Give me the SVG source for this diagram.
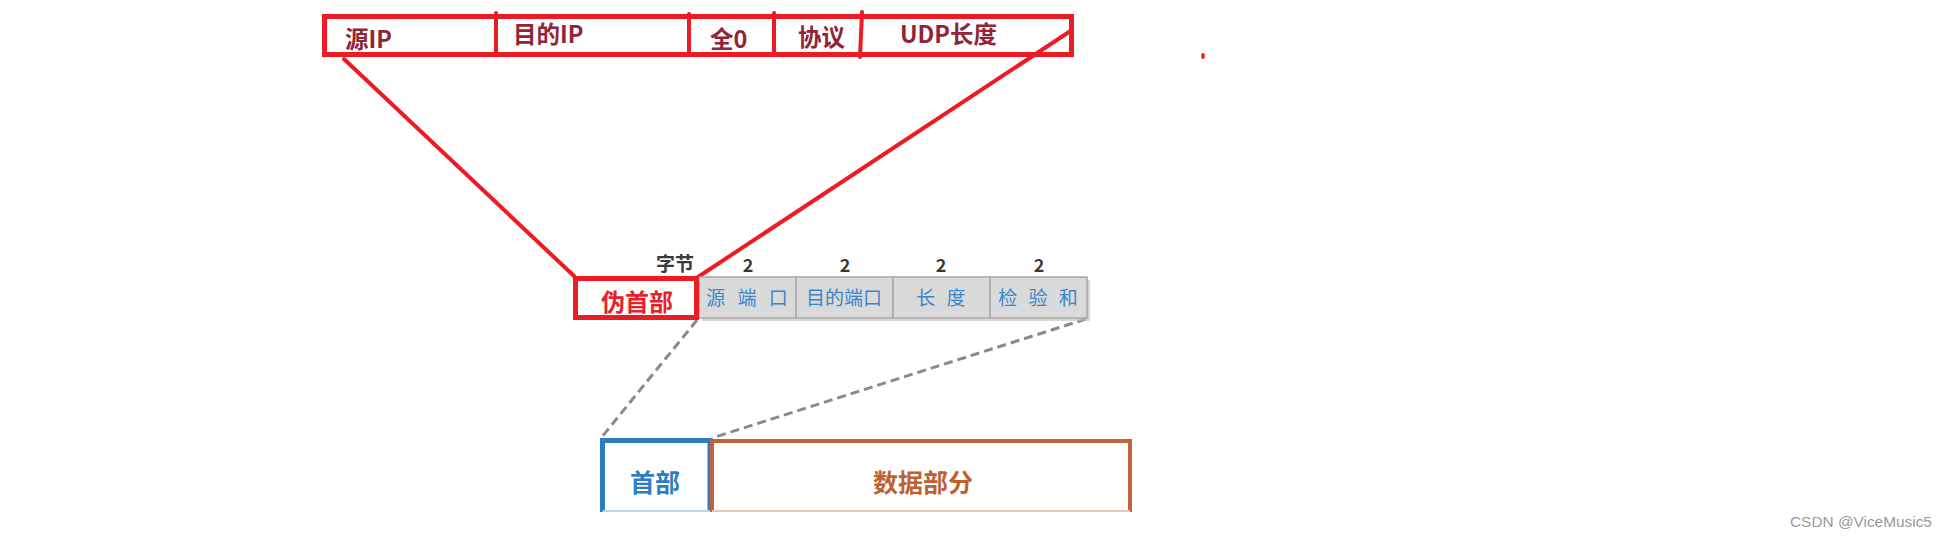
<svg xmlns="http://www.w3.org/2000/svg" width="1947" height="537" viewBox="0 0 1947 537">
<style>
.cjk{font-family:"Noto Sans CJK SC","Noto Sans",sans-serif}
.top{font-size:23.5px;font-weight:bold;fill:#922437}
.redbox{fill:none;stroke:#ed1c24;stroke-width:5}
.redline{stroke:#ed1c24;stroke-width:4;stroke-linecap:round}
.cell{fill:#dadada;stroke:#a8a8a8;stroke-width:1.5}
.celltxt{font-size:19px;fill:#3a86cc;text-anchor:middle}
.num{font-size:18px;font-weight:bold;fill:#3a3a3a;text-anchor:middle}
.dash{stroke:#8a8a8a;stroke-width:3;stroke-dasharray:9 5;fill:none}
</style>
<rect width="1947" height="537" fill="#ffffff"/>
<g id="pseudo-header-fields">
<rect class="redbox" x="324.5" y="16.5" width="747" height="38"/>
<line class="redline" x1="496" y1="13" x2="496" y2="55"/>
<line class="redline" x1="689" y1="14" x2="689" y2="55"/>
<line class="redline" x1="774" y1="13" x2="774" y2="55"/>
<line class="redline" x1="862" y1="12" x2="860" y2="57"/>
<text class="cjk top" x="345" y="48">源IP</text>
<text class="cjk top" x="513" y="43">目的IP</text>
<text class="cjk top" x="710" y="48">全0</text>
<text class="cjk top" x="798" y="46">协议</text>
<text class="cjk top" x="900" y="43">UDP长度</text>
</g>
<g id="red-dot"><ellipse cx="1203" cy="56" rx="1.8" ry="3" fill="#ed1c24"/></g>
<g id="connectors">
<line class="redline" x1="344" y1="59" x2="574" y2="276"/>
<line class="redline" x1="1072" y1="30" x2="698" y2="277"/>
<line class="dash" x1="697" y1="320" x2="601" y2="438"/>
<line class="dash" x1="1086" y1="319" x2="712" y2="438"/>
</g>
<g id="udp-header">
<rect x="702" y="280" width="388" height="41" fill="#bdbdbd" opacity="0.6"/>
<rect class="cell" x="699" y="277" width="97" height="41"/>
<rect class="cell" x="796" y="277" width="97" height="41"/>
<rect class="cell" x="893" y="277" width="97" height="41"/>
<rect class="cell" x="990" y="277" width="97" height="41"/>
<text class="cjk" x="656" y="271" font-size="19" font-weight="bold" fill="#3a3a3a">字节</text>
<text class="cjk num" x="748" y="272">2</text>
<text class="cjk num" x="845" y="272">2</text>
<text class="cjk num" x="941" y="272">2</text>
<text class="cjk num" x="1039" y="272">2</text>
<text class="cjk celltxt" x="747" y="305" word-spacing="8">源 端 口</text>
<text class="cjk celltxt" x="844" y="305">目的端口</text>
<text class="cjk celltxt" x="941" y="305" word-spacing="7">长 度</text>
<text class="cjk celltxt" x="1038" y="305" word-spacing="7">检 验 和</text>
</g>
<g id="pseudo-header">
<rect x="575.5" y="278.5" width="121" height="39" fill="#ffffff" stroke="#ed1c24" stroke-width="5"/>
<text class="cjk" x="637" y="311" font-size="24" font-weight="bold" fill="#e8202a" text-anchor="middle">伪首部</text>
</g>
<g id="header">
<path d="M602.5 512 V440.5 H710 V512" fill="none" stroke="#2e7dc4" stroke-width="5"/>
<line x1="602.5" y1="511" x2="710" y2="511" stroke="#b9d6ee" stroke-width="2"/>
<text class="cjk" x="655" y="492" font-size="25" font-weight="bold" fill="#2e7dc4" text-anchor="middle">首部</text>
</g>
<g id="data">
<path d="M712 512 V441 H1130 V512" fill="none" stroke="#c0643c" stroke-width="4"/>
<line x1="712" y1="511" x2="1130" y2="511" stroke="#efc6b2" stroke-width="2"/>
<text class="cjk" x="923" y="492" font-size="25" font-weight="bold" fill="#c0602f" text-anchor="middle">数据部分</text>
</g>
<text x="1790" y="527" font-family="Liberation Sans, Arial, sans-serif" font-size="15.4" fill="#9a9a9a">CSDN @ViceMusic5</text>
</svg>
